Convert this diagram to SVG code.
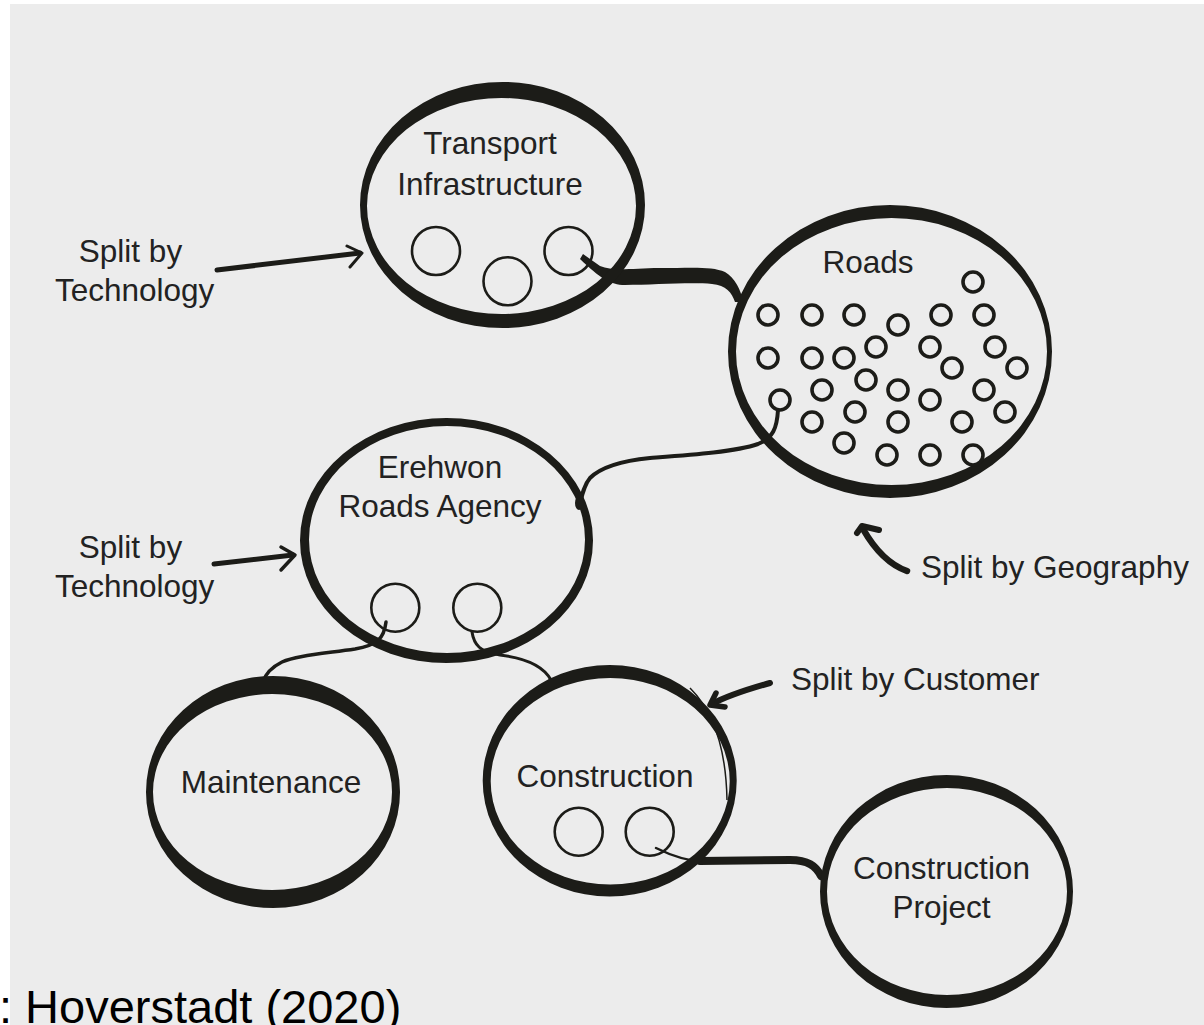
<svg xmlns="http://www.w3.org/2000/svg" width="1204" height="1025" viewBox="0 0 1204 1025">
  <style>
    .ring { fill: #1c1c18; fill-rule: evenodd; }
    .sc { fill: none; stroke: #1c1c18; stroke-width: 2.6; }
    .dot { fill: none; stroke: #1c1c18; stroke-width: 3.6; }
    .lbl { font-family: "Liberation Sans", Arial, sans-serif; font-size: 31.5px; fill: #222; text-anchor: middle; }
    .ann { font-family: "Liberation Sans", Arial, sans-serif; font-size: 31.5px; fill: #222; }
    .wire { fill: none; stroke: #1c1c18; stroke-linecap: round; stroke-linejoin: round; }
    .arr { fill: none; stroke: #1c1c18; stroke-linecap: round; stroke-linejoin: round; }
  </style>
  <rect x="0" y="0" width="1204" height="1025" fill="#ffffff"/>
  <rect x="10" y="4" width="1194" height="1021" fill="#ececec"/>

  <g id="connectors">
    <path d="M583,254 L600,266 C614,272 632,268 660,268 C690,268 712,266 725,272 C735,278 741,290 743,302 L735,302 C732,293 726,285 712,284 C690,282 652,285 625,285 C610,285 600,278 580,259 Z" fill="#1c1c18"/>
    <path class="wire" stroke-width="4" d="M778,410 C777,428 773,438 758,444 C735,452 690,455 650,458 C620,461 600,468 590,478 C584,485 582,495 580,504"/>
    <ellipse cx="579" cy="503" rx="4" ry="7" fill="#1c1c18"/>
    <path class="wire" stroke-width="3.5" d="M386,622 C384,638 378,645 355,649 C320,654 295,656 282,662 C270,668 265,675 263,682"/>
    <path class="wire" stroke-width="3" d="M472,632 C474,645 480,652 500,655 C525,658 543,665 551,680"/>
    <path class="wire" stroke-width="2.5" d="M656,848 C670,855 685,861 705,862"/>
    <path class="wire" stroke-width="8" d="M700,861 L790,860 C808,860 816,866 821,876"/>
  </g>

  <g id="annotations">
    <path class="arr" stroke-width="5" d="M217,270 L360,253"/>
    <path class="arr" stroke-width="3" d="M347,246 L362,253 L350,267"/>
    <text class="ann" x="130.5" y="262" text-anchor="middle">Split by</text>
    <text class="ann" x="134.7" y="301" text-anchor="middle">Technology</text>

    <path class="arr" stroke-width="5" d="M214,564 L293,555"/>
    <path class="arr" stroke-width="3.5" d="M281,547 L295,555 L281,570"/>
    <text class="ann" x="130.5" y="558" text-anchor="middle">Split by</text>
    <text class="ann" x="134.7" y="597" text-anchor="middle">Technology</text>

    <path class="arr" stroke-width="6.5" d="M907,571 C890,565 875,550 863,529"/>
    <path class="arr" stroke-width="6" d="M857,533 L862,526 L879,530"/>
    <text class="ann" x="921" y="578">Split by Geography</text>

    <path class="arr" stroke-width="6" d="M770,683 C745,690 725,697 712,704"/>
    <path class="arr" stroke-width="5.5" d="M716,693 L710,705 L725,707"/>
    <text class="ann" x="791" y="690">Split by Customer</text>
  </g>

  <g id="transport-infrastructure">
    <path class="ring" d="M360,205 A142.5,123 0 1 0 645,205 A142.5,123 0 1 0 360,205 Z M367,206 A134.5,108 0 1 0 636,206 A134.5,108 0 1 0 367,206 Z"/>
    <text class="lbl" x="490" y="154">Transport</text>
    <text class="lbl" x="490" y="195">Infrastructure</text>
    <circle class="sc" cx="436" cy="251" r="24"/>
    <circle class="sc" cx="507.5" cy="281.3" r="24"/>
    <circle class="sc" cx="568.5" cy="251" r="24"/>
  </g>

  <g id="roads">
    <path class="ring" d="M728,351.5 A162,146.5 0 1 0 1052,351.5 A162,146.5 0 1 0 728,351.5 Z M736,351.5 A155.5,133.5 0 1 0 1047,351.5 A155.5,133.5 0 1 0 736,351.5 Z"/>
    <text class="lbl" x="868" y="273">Roads</text>
    <circle class="dot" cx="973" cy="282" r="10"/>
    <circle class="dot" cx="768" cy="315" r="10"/>
    <circle class="dot" cx="812" cy="315" r="10"/>
    <circle class="dot" cx="854" cy="315" r="10"/>
    <circle class="dot" cx="898" cy="325" r="10"/>
    <circle class="dot" cx="941" cy="315" r="10"/>
    <circle class="dot" cx="984" cy="315" r="10"/>
    <circle class="dot" cx="768" cy="358" r="10"/>
    <circle class="dot" cx="812" cy="358" r="10"/>
    <circle class="dot" cx="844" cy="358" r="10"/>
    <circle class="dot" cx="876" cy="347" r="10"/>
    <circle class="dot" cx="930" cy="347" r="10"/>
    <circle class="dot" cx="995" cy="347" r="10"/>
    <circle class="dot" cx="952" cy="368" r="10"/>
    <circle class="dot" cx="1017" cy="368" r="10"/>
    <circle class="dot" cx="780" cy="400" r="10"/>
    <circle class="dot" cx="822" cy="390" r="10"/>
    <circle class="dot" cx="866" cy="380" r="10"/>
    <circle class="dot" cx="898" cy="390" r="10"/>
    <circle class="dot" cx="930" cy="400" r="10"/>
    <circle class="dot" cx="984" cy="390" r="10"/>
    <circle class="dot" cx="1005" cy="412" r="10"/>
    <circle class="dot" cx="812" cy="422" r="10"/>
    <circle class="dot" cx="855" cy="412" r="10"/>
    <circle class="dot" cx="898" cy="422" r="10"/>
    <circle class="dot" cx="962" cy="422" r="10"/>
    <circle class="dot" cx="844" cy="443" r="10"/>
    <circle class="dot" cx="887" cy="455" r="10"/>
    <circle class="dot" cx="930" cy="455" r="10"/>
    <circle class="dot" cx="973" cy="455" r="10"/>
  </g>

  <g id="erehwon-roads-agency">
    <path class="ring" d="M300,540.5 A146.5,122.5 0 1 0 593,540.5 A146.5,122.5 0 1 0 300,540.5 Z M309,539.5 A138,113.5 0 1 0 585,539.5 A138,113.5 0 1 0 309,539.5 Z"/>
    <text class="lbl" x="440" y="478">Erehwon</text>
    <text class="lbl" x="440" y="517">Roads Agency</text>
    <circle class="sc" cx="395.3" cy="607.7" r="24"/>
    <circle class="sc" cx="477.3" cy="607.7" r="24"/>
  </g>

  <g id="maintenance">
    <path class="ring" d="M146,792 A127,116 0 1 0 400,792 A127,116 0 1 0 146,792 Z M153,792 A119.5,98 0 1 0 392,792 A119.5,98 0 1 0 153,792 Z"/>
    <text class="lbl" x="271" y="793">Maintenance</text>
  </g>

  <g id="construction">
    <path class="ring" d="M482.7,780.8 A127,115.8 0 1 0 736.7,780.8 A127,115.8 0 1 0 482.7,780.8 Z M490.7,781.3 A119.5,103.3 0 1 0 729.7,781.3 A119.5,103.3 0 1 0 490.7,781.3 Z"/>
    <path d="M690,688 C712,710 726,745 727,800" fill="none" stroke="#1c1c18" stroke-width="1.5"/>
    <text class="lbl" x="605" y="787">Construction</text>
    <circle class="sc" cx="578.7" cy="831.7" r="24"/>
    <circle class="sc" cx="649.7" cy="831.7" r="24"/>
  </g>

  <g id="construction-project">
    <path class="ring" d="M820,891.5 A126.5,116.5 0 1 0 1073,891.5 A126.5,116.5 0 1 0 820,891.5 Z M827,891.5 A120,103.5 0 1 0 1067,891.5 A120,103.5 0 1 0 827,891.5 Z"/>
    <text class="lbl" x="941.5" y="879">Construction</text>
    <text class="lbl" x="941.5" y="918">Project</text>
  </g>

  <text x="-1" y="1023" font-family="'Liberation Sans', Arial, sans-serif" font-size="47" fill="#000">: Hoverstadt (2020)</text>
</svg>
